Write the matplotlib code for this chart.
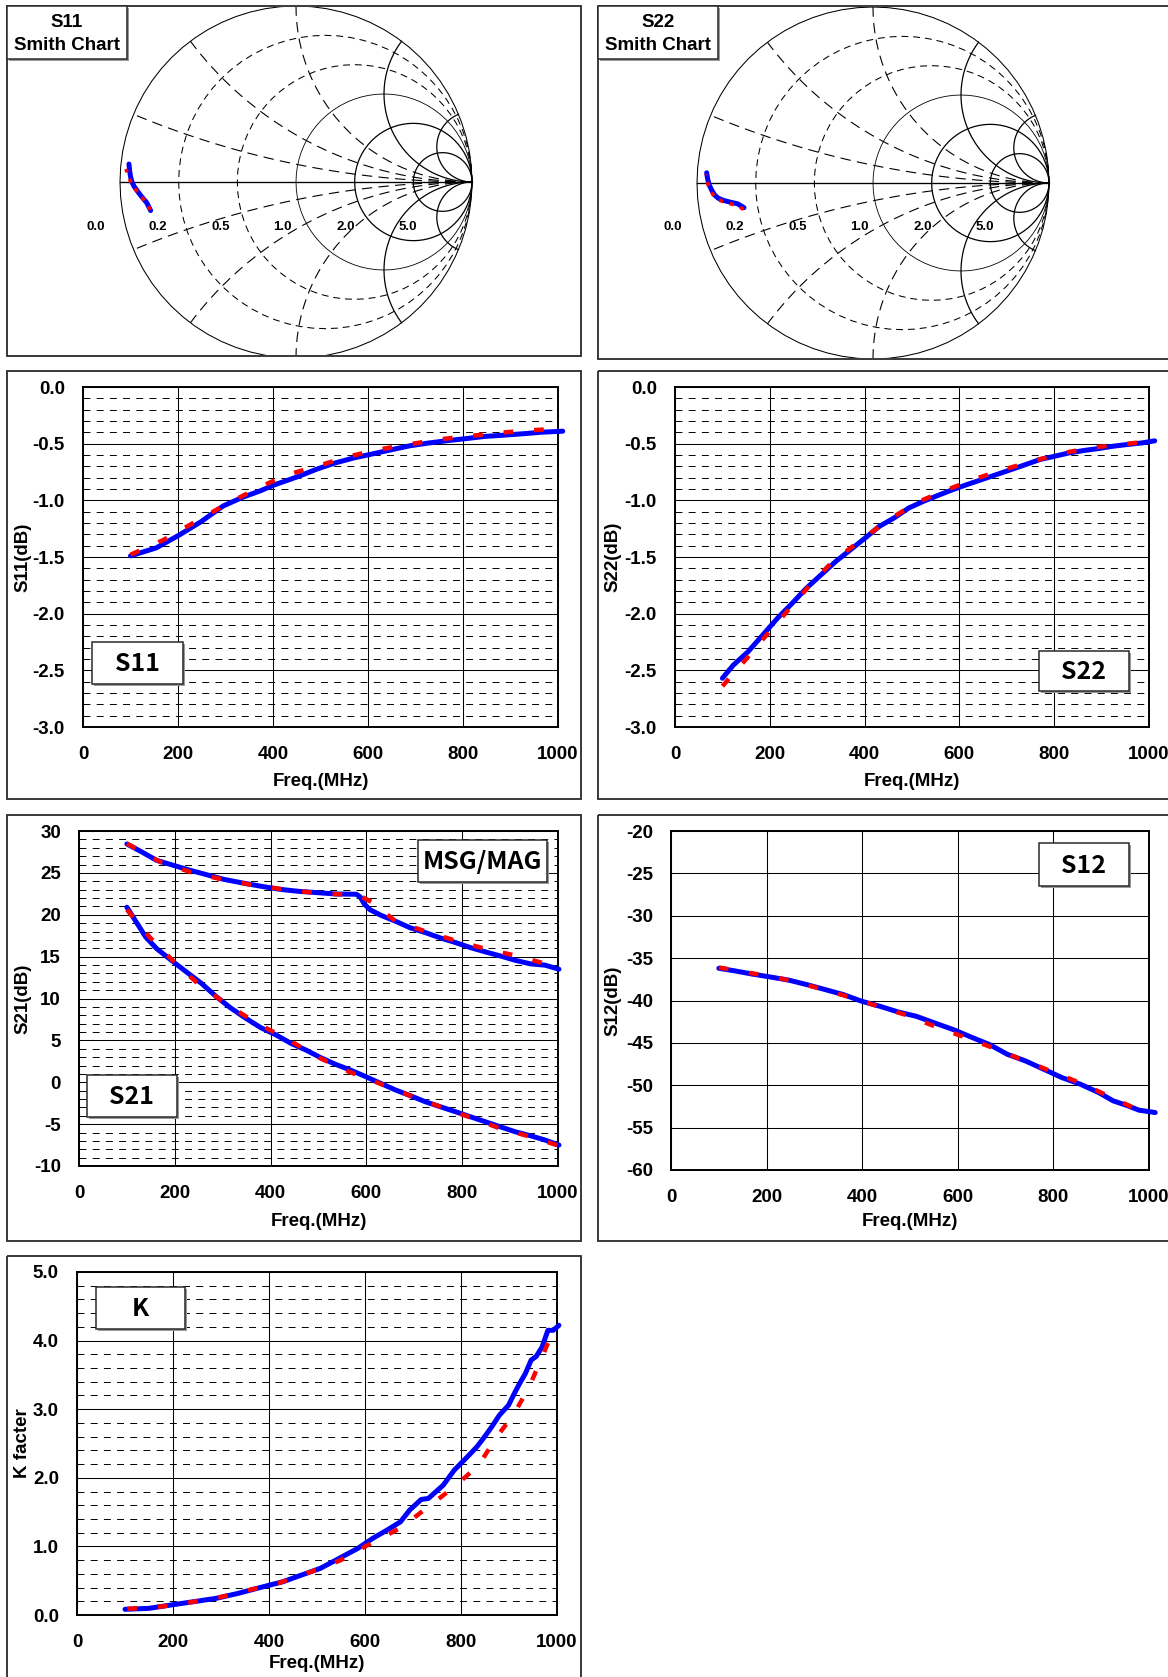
import numpy as np
import matplotlib
matplotlib.use('Agg')
import matplotlib.pyplot as plt
from matplotlib.patches import Rectangle
from matplotlib import font_manager
from matplotlib.ticker import FormatStrFormatter

plt.rcParams['font.family'] = ['Liberation Sans', 'DejaVu Sans']
plt.rcParams['font.weight'] = 'bold'
plt.rcParams['lines.scale_dashes'] = False

_names = {f.name for f in font_manager.fontManager.ttflist}
if 'Noto Sans CJK JP' in _names:
    BOXFONT = ['Noto Sans CJK JP', 'DejaVu Sans']
elif 'Liberation Sans Narrow' in _names:
    BOXFONT = ['Liberation Sans Narrow', 'DejaVu Sans']
else:
    BOXFONT = ['Liberation Sans', 'DejaVu Sans']

# ---------------- data ----------------
# Smith chart (reflection coefficient, real / imaginary), 100..1000 MHz
smith_freq = [100, 200, 300, 400, 500, 600, 700, 800, 900, 1000]
s11_meas_re = [-0.826, -0.848, -0.880, -0.902, -0.920, -0.932, -0.940, -0.944, -0.947, -0.949]
s11_meas_im = [-0.162, -0.118, -0.080, -0.050, -0.025, 0.000, 0.030, 0.055, 0.080, 0.102]
s11_model_re = [-0.828, -0.852, -0.885, -0.908, -0.926, -0.940, -0.950, -0.957, -0.962, -0.966]
s11_model_im = [-0.158, -0.115, -0.078, -0.048, -0.022, 0.003, 0.028, 0.048, 0.062, 0.074]
s22_meas_re = [-0.733, -0.770, -0.815, -0.852, -0.880, -0.900, -0.917, -0.931, -0.940, -0.945]
s22_meas_im = [-0.140, -0.118, -0.108, -0.098, -0.086, -0.068, -0.040, -0.010, 0.025, 0.058]
s22_model_re = [-0.735, -0.773, -0.818, -0.855, -0.884, -0.904, -0.921, -0.935, -0.944, -0.949]
s22_model_im = [-0.150, -0.128, -0.116, -0.105, -0.092, -0.074, -0.046, -0.016, 0.018, 0.050]
smith_ticks = ['0.0', '0.2', '0.5', '1.0', '2.0', '5.0']

# S11 (dB)
s11_meas_f = [100, 154, 201, 248, 295, 335, 374, 402, 453, 492, 531, 571, 610, 650, 689, 728, 768, 807, 846, 886, 925, 965, 1010]
s11_meas = [-1.49, -1.42, -1.31, -1.19, -1.05, -0.975, -0.915, -0.865, -0.79, -0.725, -0.67, -0.625, -0.59, -0.553, -0.518, -0.494, -0.473, -0.455, -0.436, -0.425, -0.413, -0.399, -0.39]
s11_model_f = [100, 169, 236, 299, 362, 425, 492, 555, 622, 685, 748, 811, 876, 939, 1008]
s11_model = [-1.48, -1.35, -1.19, -1.04, -0.905, -0.78, -0.70, -0.617, -0.552, -0.507, -0.463, -0.434, -0.404, -0.383, -0.366]

# S22 (dB)
s22_meas_f = [100, 123, 154, 185, 216, 247, 277, 308, 339, 370, 401, 431, 462, 493, 524, 555, 586, 616, 647, 678, 709, 740, 770, 801, 832, 863, 894, 925, 955, 986, 1012]
s22_meas = [-2.57, -2.454, -2.336, -2.189, -2.041, -1.909, -1.776, -1.658, -1.54, -1.437, -1.333, -1.23, -1.156, -1.068, -1.009, -0.956, -0.906, -0.861, -0.817, -0.773, -0.729, -0.684, -0.64, -0.611, -0.581, -0.56, -0.543, -0.522, -0.507, -0.493, -0.475]
s22_model_f = [100, 150, 193, 239, 285, 331, 393, 451, 512, 574, 639, 705, 767, 832, 894, 959, 1012]
s22_model = [-2.64, -2.401, -2.189, -1.968, -1.746, -1.546, -1.348, -1.171, -1.015, -0.906, -0.802, -0.714, -0.640, -0.572, -0.528, -0.499, -0.472]

# S21 (dB) and MSG/MAG (dB)
s21_meas_f = [100, 115, 139, 162, 197, 224, 256, 287, 318, 349, 380, 412, 443, 474, 505, 536, 567, 599, 630, 661, 692, 723, 754, 786, 817, 848, 879, 910, 942, 973, 1002]
s21_meas = [20.9, 19.54, 17.36, 15.96, 14.37, 13.18, 11.79, 10.2, 8.81, 7.61, 6.5, 5.63, 4.63, 3.84, 2.92, 2.13, 1.45, 0.66, -0.14, -0.93, -1.61, -2.33, -2.92, -3.52, -4.12, -4.71, -5.31, -5.9, -6.38, -6.9, -7.5]
s21_model_f = [100, 147, 193, 248, 306, 372, 435, 497, 564, 622, 688, 754, 813, 875, 942, 1000]
s21_model = [20.6, 17.36, 14.69, 11.79, 9.4, 7.02, 5.15, 3.04, 1.25, -0.02, -1.53, -2.92, -4.12, -5.43, -6.5, -7.55]
msg_meas_f = [100, 131, 162, 197, 232, 271, 302, 341, 380, 419, 458, 497, 536, 579, 587, 595, 607, 630, 661, 692, 723, 754, 786, 817, 848, 879, 910, 942, 973, 1002]
msg_meas = [28.45, 27.5, 26.5, 25.9, 25.31, 24.71, 24.23, 23.8, 23.4, 23.04, 22.8, 22.64, 22.48, 22.45, 22.13, 21.33, 20.62, 19.94, 19.22, 18.43, 17.87, 17.24, 16.68, 16.08, 15.57, 15.09, 14.57, 14.14, 13.98, 13.5]
msg_model_f = [100, 170, 232, 298, 365, 427, 489, 552, 585, 612, 661, 727, 790, 852, 914, 977, 1000]
msg_model = [28.5, 26.3, 25.11, 24.23, 23.52, 23.04, 22.64, 22.41, 22.3, 21.5, 19.22, 17.95, 16.84, 15.88, 15.09, 14.1, 13.7]

# S12 (dB)
s12_meas_f = [100, 132, 170, 208, 246, 285, 323, 361, 399, 437, 475, 513, 551, 590, 628, 666, 704, 742, 780, 818, 857, 895, 925, 956, 979, 1013]
s12_meas = [-36.2, -36.49, -36.88, -37.23, -37.59, -38.14, -38.72, -39.31, -40.09, -40.68, -41.35, -41.86, -42.64, -43.42, -44.32, -45.19, -46.36, -47.14, -48.12, -49.1, -49.89, -50.87, -51.84, -52.43, -52.94, -53.22]
s12_model_f = [100, 170, 235, 300, 363, 426, 489, 551, 614, 677, 741, 803, 866, 929, 1000]
s12_model = [-36.1, -36.8, -37.47, -38.41, -39.43, -40.56, -41.66, -43.03, -44.32, -45.66, -47.14, -48.52, -49.96, -51.65, -53.5]

# K factor
k_meas_f = [100, 150, 196, 243, 290, 336, 383, 429, 468, 507, 546, 585, 616, 646, 674, 693, 717, 732, 763, 786, 810, 833, 849, 864, 880, 899, 911, 922, 934, 946, 957, 969, 981, 992, 1004]
k_meas = [0.083, 0.097, 0.146, 0.194, 0.243, 0.316, 0.403, 0.485, 0.583, 0.68, 0.825, 0.971, 1.117, 1.238, 1.359, 1.529, 1.684, 1.699, 1.893, 2.112, 2.282, 2.451, 2.597, 2.743, 2.913, 3.058, 3.228, 3.374, 3.519, 3.714, 3.772, 3.908, 4.15, 4.15, 4.223]
k_model_f = [105, 173, 235, 297, 359, 422, 488, 550, 612, 676, 732, 786, 837, 872, 911, 942, 969, 992, 1002]
k_model = [0.09, 0.121, 0.184, 0.257, 0.364, 0.471, 0.631, 0.801, 1.044, 1.277, 1.578, 1.869, 2.184, 2.573, 2.937, 3.325, 3.762, 4.15, 4.2]

freq_ticks = [0, 200, 400, 600, 800, 1000]

BLUE = '#0000FF'
RED = '#FF0000'

# ---------------- layout helpers ----------------
W, H = 1168, 1677
fig = plt.figure(figsize=(W / 100, H / 100), dpi=100)


def rect(x0, y0, x1, y1):
    return [x0 / W, 1 - y1 / H, (x1 - x0) / W, (y1 - y0) / H]


def plot_pair(ax, fm, vm, fmod, vmod):
    ax.plot(fm, vm, color=BLUE, lw=3.6, solid_capstyle='round', solid_joinstyle='round',
            zorder=3, clip_on=False)
    ax.plot(fmod, vmod, color=RED, lw=3.2, dashes=(7, 15), dash_capstyle='butt',
            zorder=4, clip_on=False)


def setup_db(ax, ylim, major, minor, fmt, ylabel, ylab_x, xlab_y):
    ax.set_xlim(0, 1000)
    ax.set_ylim(*ylim)
    ax.set_xticks(freq_ticks)
    ax.set_yticks(np.arange(ylim[0], ylim[1] + 1e-9, major))
    if minor:
        ax.set_yticks(np.arange(ylim[0], ylim[1] + 1e-9, minor), minor=True)
        ax.grid(which='minor', axis='y', color='black', lw=0.7, ls=(0, (5, 4.5)))
    ax.grid(which='major', axis='both', color='black', lw=0.75, ls='-')
    ax.set_axisbelow(True)
    ax.yaxis.set_major_formatter(FormatStrFormatter(fmt))
    ax.tick_params(which='both', length=0, labelsize=13.5)
    ax.tick_params(axis='x', pad=13.5)
    ax.tick_params(axis='y', pad=13)
    for s in ax.spines.values():
        s.set_linewidth(1.4)
        s.set_color('black')
    ax.set_xlabel('Freq.(MHz)', fontsize=13.5, fontweight='bold')
    ax.set_ylabel(ylabel, fontsize=13.5, fontweight='bold')
    ax.xaxis.set_label_coords(0.5, xlab_y)
    ax.yaxis.set_label_coords(ylab_x, 0.5)
    ax.xaxis.label.set_va('center')
    ax.yaxis.label.set_va('center')


def smith(ax, cx, cy, R, px0, py0, px1, py1, mre, mim, dre, dim, label_y):
    ax.set_xlim((px0 - cx) / R, (px1 - cx) / R)
    ax.set_ylim((cy - py1) / R, (cy - py0) / R)
    ax.axis('off')
    t = np.linspace(0, 2 * np.pi, 73)
    solid = dict(color='black', lw=0.9, zorder=1)
    dash_r = dict(color='black', lw=0.75, ls=(0, (5, 3.5)), zorder=1)
    dash_x = dict(color='black', lw=0.8, ls=(0, (7.5, 4.5)), zorder=1)
    ax.plot(np.cos(t), np.sin(t), color='black', lw=0.75, zorder=1)
    ax.plot([-1, 1], [0, 0], color='black', lw=0.95, zorder=1)
    for r in [0.2, 0.5, 1.0, 2.0, 5.0]:
        c, rad = r / (1 + r), 1 / (1 + r)
        if r < 1:
            st = dash_r
        elif r == 1:
            st = dict(color='black', lw=0.6, zorder=1)
        else:
            st = solid
        ax.plot(c + rad * np.cos(t), rad * np.sin(t), **st)
    for x in [0.2, 0.5, 1.0, 2.0, 5.0]:
        xi, yi = (x * x - 1) / (x * x + 1), 2 * x / (x * x + 1)
        phi_end = np.arctan2(yi - 1 / x, xi - 1)
        while phi_end > -np.pi / 2:
            phi_end -= 2 * np.pi
        ph = np.linspace(-np.pi / 2, phi_end, 40)
        ax_ = 1 + np.cos(ph) / x
        ay_ = 1 / x + np.sin(ph) / x
        st = dash_x if x <= 1 else solid
        ax.plot(ax_, ay_, **st)
        ax.plot(ax_, -ay_, **st)
    for i, lab in enumerate(smith_ticks):
        ax.text(-1.14 + i * 0.355, label_y, lab, fontsize=9.5, fontweight='bold',
                ha='center', va='center', zorder=2)
    ax.plot(mre, mim, color=BLUE, lw=3.6, solid_capstyle='round', zorder=3)
    ax.plot(dre, dim, color=RED, lw=2.6, dashes=(3, 5), dash_capstyle='butt', zorder=4)


# ---------------- Smith charts ----------------
ax1 = fig.add_axes(rect(8, 7, 580, 355))
smith(ax1, 296, 182, 176, 8, 7, 580, 355, s11_meas_re, s11_meas_im, s11_model_re, s11_model_im, -0.256)
ax2 = fig.add_axes(rect(599, 7, 1168, 358))
smith(ax2, 873, 183, 176, 599, 7, 1168, 358, s22_meas_re, s22_meas_im, s22_model_re, s22_model_im, -0.25)

# ---------------- S11 / S22 ----------------
a = fig.add_axes(rect(83, 387, 558, 727))
setup_db(a, (-3.0, 0.0), 0.5, 0.1, '%.1f', 'S11(dB)', (22.5 - 83) / 475, (727 - 782) / 340)
plot_pair(a, s11_meas_f, s11_meas, s11_model_f, s11_model)

a = fig.add_axes(rect(675, 387, 1149, 727))
setup_db(a, (-3.0, 0.0), 0.5, 0.1, '%.1f', 'S22(dB)', (613 - 675) / 474, (727 - 782) / 340)
plot_pair(a, s22_meas_f, s22_meas, s22_model_f, s22_model)

# ---------------- S21 / S12 ----------------
a = fig.add_axes(rect(79, 831, 558, 1166))
setup_db(a, (-10, 30), 5, 1, '%d', 'S21(dB)', (23 - 79) / 479, (1166 - 1222) / 335)
plot_pair(a, s21_meas_f, s21_meas, s21_model_f, s21_model)
plot_pair(a, msg_meas_f, msg_meas, msg_model_f, msg_model)

a = fig.add_axes(rect(671, 831, 1149, 1170))
setup_db(a, (-60, -20), 5, None, '%d', 'S12(dB)', (613 - 671) / 478, (1170 - 1222) / 339)
plot_pair(a, s12_meas_f, s12_meas, s12_model_f, s12_model)

# ---------------- K ----------------
a = fig.add_axes(rect(77, 1272, 557, 1615))
setup_db(a, (0.0, 5.0), 1.0, 0.2, '%.1f', 'K facter', (22.5 - 77) / 480, (1615 - 1663) / 343)
plot_pair(a, k_meas_f, k_meas, k_model_f, k_model)

# ---------------- overlay: panel frames and label boxes ----------------
ov = fig.add_axes([0, 0, 1, 1], zorder=10)
ov.set_xlim(0, W)
ov.set_ylim(H, 0)
ov.axis('off')
ov.patch.set_alpha(0)

frames = [(7, 6, 581, 356), (598, 6, 1180, 359), (7, 371, 581, 799), (598, 371, 1180, 799),
          (7, 815, 581, 1241), (598, 815, 1180, 1241), (7, 1256, 581, 1690)]
for x0, y0, x1, y1 in frames:
    ov.add_patch(Rectangle((x0, y0), x1 - x0, y1 - y0, fill=False, ec='#2a2a2a', lw=1.3,
                           clip_on=False))


def box(x0, y0, x1, y1, text, fs, family, weight, lines=None):
    ov.add_patch(Rectangle((x0 + 2, y0 + 2), x1 - x0, y1 - y0, fc='#9a9a9a', ec='none'))
    ov.add_patch(Rectangle((x0, y0), x1 - x0, y1 - y0, fc='white', ec='#2a2a2a', lw=1.1))
    if lines is None:
        ov.text((x0 + x1) / 2, (y0 + y1) / 2 + 1, text, fontsize=fs, family=family,
                fontweight=weight, ha='center', va='center')
    else:
        for yy, tx in lines:
            ov.text((x0 + x1) / 2, yy, tx, fontsize=fs, family=family,
                    fontweight=weight, ha='center', va='center')


box(7, 6, 127, 59, None, 13.5, ['Liberation Sans', 'DejaVu Sans'], 'bold',
    lines=[(22, 'S11'), (45, 'Smith Chart')])
box(598, 6, 718, 59, None, 13.5, ['Liberation Sans', 'DejaVu Sans'], 'bold',
    lines=[(22, 'S22'), (45, 'Smith Chart')])
box(92, 642, 183, 684, 'S11', 18, BOXFONT, 'bold')
box(1039, 651, 1129, 691, 'S22', 18, BOXFONT, 'bold')
box(87, 1075, 177, 1117, 'S21', 18, BOXFONT, 'bold')
box(418, 840, 547, 882, 'MSG/MAG', 18, BOXFONT, 'bold')
box(1039, 843, 1129, 886, 'S12', 18, BOXFONT, 'bold')
box(96, 1287, 185, 1329, 'K', 18, BOXFONT, 'bold')

fig.savefig('out.png', dpi=100, facecolor='white')
